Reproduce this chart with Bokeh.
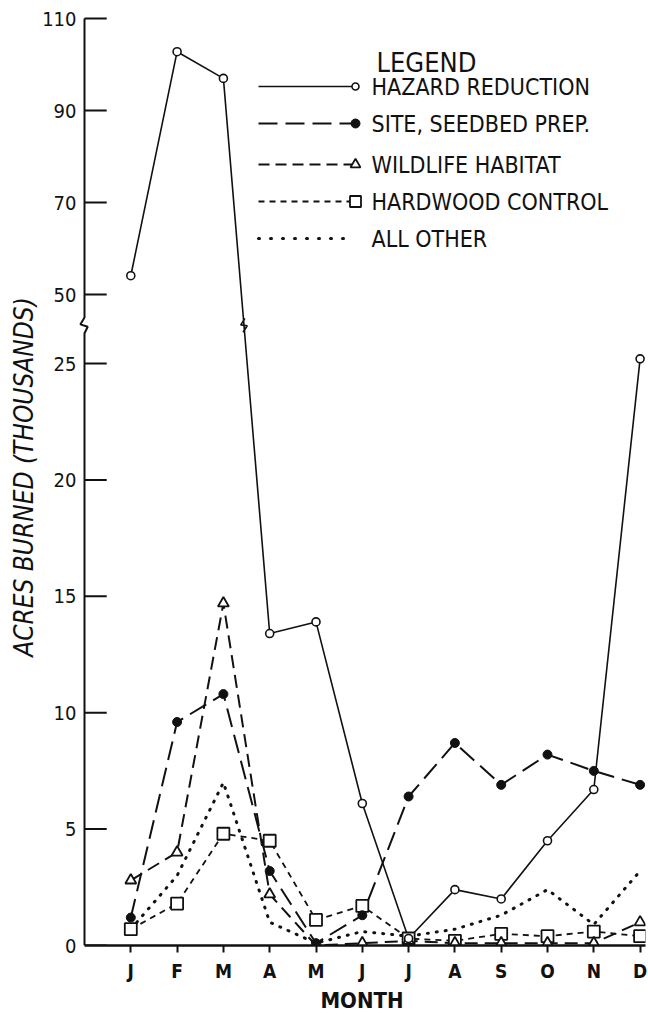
from bokeh.plotting import figure
from bokeh.models import Range1d, FixedTicker
from bokeh.core.properties import value
from bokeh.embed import file_html
from bokeh.resources import INLINE

# ---------------- data ----------------
months = ["J", "F", "M", "A", "M", "J", "J", "A", "S", "O", "N", "D"]
month_num = list(range(1, 13))
hazard = [54.1, 102.8, 97.0, 13.4, 13.9, 6.1, 0.3, 2.4, 2.0, 4.5, 6.7, 25.2]
site = [1.2, 9.6, 10.8, 3.2, 0.1, 1.3, 6.4, 8.7, 6.9, 8.2, 7.5, 6.9]
wildlife = [2.8, 4.0, 14.7, 2.2, 0.0, 0.1, 0.2, 0.1, 0.1, 0.1, 0.1, 1.0]
hardwood = [0.7, 1.8, 4.8, 4.5, 1.1, 1.7, 0.3, 0.2, 0.5, 0.4, 0.6, 0.4]
other = [0.7, 3.0, 7.0, 1.0, 0.1, 0.6, 0.4, 0.7, 1.3, 2.4, 0.9, 3.2]
lower_ticks = [0, 5, 10, 15, 20, 25]
upper_ticks = [50, 70, 90, 110]
series_names = ["HAZARD REDUCTION", "SITE, SEEDBED PREP.", "WILDLIFE HABITAT",
                "HARDWOOD CONTROL", "ALL OTHER"]

# ---------------- broken-axis scale ----------------
PX_X = 46.3      # px per month
PX_Y = 23.28     # px per thousand acres (lower part)
UP_BASE = 27.96  # where 50 sits on the lower scale
UP_SCALE = 0.1976


def ty(v):
    return round(v if v < 30 else UP_BASE + (v - 50) * UP_SCALE, 4)


def tys(vals):
    return [ty(v) for v in vals]


FONT = "DejaVu Sans Condensed, Liberation Sans, sans-serif"
BLACK = "#111111"

x0 = -6 / PX_X
x1 = x0 + 567 / PX_X
p = figure(width=648, height=1015, output_backend="svg", toolbar_location=None,
           x_range=Range1d(x0, x1),
           y_range=Range1d(0, 937 / PX_Y),
           min_border_left=78, min_border_right=3, min_border_top=8,
           min_border_bottom=70)
p.outline_line_color = None
p.grid.visible = False
p.background_fill_color = "white"
p.border_fill_color = "white"

# ---- y axis (labels + title from Bokeh axis) ----
yt = tys(lower_ticks + upper_ticks)
yax = p.yaxis[0]
yax.ticker = FixedTicker(ticks=yt)
yax.major_label_overrides = {ty(t): str(t) for t in lower_ticks + upper_ticks}
yax.axis_line_color = None
yax.major_tick_line_color = None
yax.minor_tick_line_color = None
yax.major_tick_in = 0
yax.major_tick_out = 0
yax.major_label_standoff = 2
yax.major_label_text_font = FONT
yax.major_label_text_font_size = "20px"
yax.major_label_text_color = BLACK
yax.axis_label = "ACRES BURNED (THOUSANDS)"
yax.axis_label_text_font = FONT
yax.axis_label_text_font_style = "italic"
yax.axis_label_text_font_size = "26px"
yax.axis_label_text_color = BLACK
yax.axis_label_standoff = 0

# ---- x axis ----
xax = p.xaxis[0]
xax.bounds = (0, x1)
xax.ticker = FixedTicker(ticks=month_num)
xax.major_label_overrides = {m: lab for m, lab in zip(month_num, months)}
xax.axis_line_width = 2.5
xax.axis_line_color = BLACK
xax.major_tick_line_width = 2
xax.major_tick_line_color = BLACK
xax.major_tick_in = 0
xax.major_tick_out = 7
xax.minor_tick_line_color = None
xax.major_label_standoff = 7
xax.major_label_text_font = FONT
xax.major_label_text_font_size = "19px"
xax.major_label_text_font_style = "bold"
xax.major_label_text_color = BLACK
xax.axis_label = "MONTH"
xax.axis_label_text_font = FONT
xax.axis_label_text_font_size = "22px"
xax.axis_label_text_font_style = "bold"
xax.axis_label_text_color = BLACK
xax.axis_label_standoff = 3

# manual y axis line with break, and inward ticks
p.line([0, 0, -0.09, 0.07, 0, 0], [ty(110), 26.98, 26.68, 26.58, 26.3, 0],
       line_color=BLACK, line_width=2)
p.segment(x0=[0] * len(yt), y0=yt, x1=[0.48] * len(yt), y1=yt,
          line_color=BLACK, line_width=2)

# ---------------- series ----------------
p.line(month_num, tys(other), line_color=BLACK, line_width=3, line_dash="1 8",
       line_cap="round")
p.line(month_num, tys(hardwood), line_color=BLACK, line_width=1.8, line_dash="6 5")
p.line(month_num, tys(wildlife), line_color=BLACK, line_width=2, line_dash="13 7")
p.line(month_num, tys(site), line_color=BLACK, line_width=2, line_dash="19 8")
p.line(month_num, tys(hazard), line_color=BLACK, line_width=1.6)

# break mark on the hazard line where it crosses the axis break
hy0, hy1 = ty(hazard[2]), ty(hazard[3])
yc = 26.64
xc = 3 + (hy0 - yc) / (hy0 - hy1)
p.line([xc + 0.02, xc - 0.07, xc + 0.07, xc - 0.02],
       [yc + 0.3, yc + 0.02, yc - 0.02, yc - 0.3],
       line_color=BLACK, line_width=1.6)

p.scatter(month_num, tys(hardwood), marker="square", size=12, fill_color="white",
          line_color=BLACK, line_width=1.8)
p.scatter(month_num, tys(wildlife), marker="triangle", size=11, fill_color="white",
          line_color=BLACK, line_width=1.8)
p.scatter(month_num, tys(site), marker="circle", size=9, fill_color=BLACK,
          line_color=BLACK)
p.scatter(month_num, tys(hazard), marker="circle", size=8, fill_color="white",
          line_color=BLACK, line_width=1.6)

# ---------------- legend (layout in pixels -> data) ----------------
def px2x(px):
    return (px - 84) / PX_X


def px2y(py):
    return (945 - py) / PX_Y


rows = [86, 123, 164, 201, 238]
styles = [
    dict(line_width=1.6, line_dash="solid"),
    dict(line_width=2, line_dash="19 8"),
    dict(line_width=2, line_dash="11 6"),
    dict(line_width=1.8, line_dash="6 5"),
    dict(line_width=3, line_dash="1 11", line_cap="round"),
]
markers = [
    dict(marker="circle", size=7, fill_color="white", line_width=1.6),
    dict(marker="circle", size=9, fill_color=BLACK, line_width=1),
    dict(marker="triangle", size=10, fill_color="white", line_width=1.8),
    dict(marker="square", size=11, fill_color="white", line_width=1.8),
    None,
]
for r, st, mk in zip(rows, styles, markers):
    yy = px2y(r)
    p.line([px2x(258), px2x(353)], [yy, yy], line_color=BLACK, **st)
    if mk:
        p.scatter([px2x(355)], [yy], line_color=BLACK, **mk)

p.text([px2x(371)] * 5, [px2y(r) for r in rows], text=series_names,
       text_font=value(FONT), text_font_size="23px", text_baseline="middle",
       text_color=BLACK)
p.text([px2x(376)], [px2y(62)], text=["LEGEND"], text_font=value(FONT),
       text_font_size="27px", text_baseline="alphabetic", text_color=BLACK)

open("out.html", "w").write(file_html(p, INLINE))
